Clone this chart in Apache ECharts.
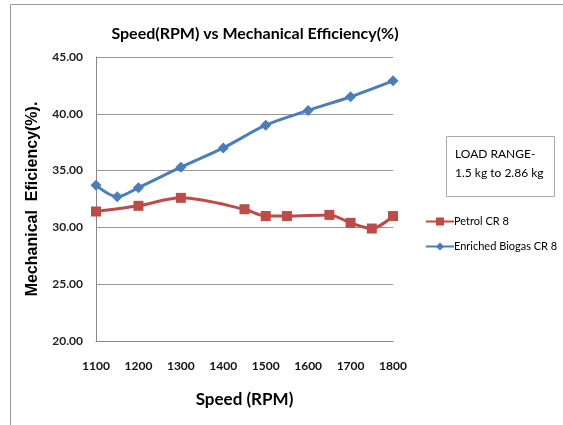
<!DOCTYPE html>
<html>
<head>
<meta charset="utf-8">
<script src="https://cdn.jsdelivr.net/npm/echarts@6/dist/echarts.min.js"></script>
<style>
  html, body { margin: 0; padding: 0; background: #fff; }
  #chart { width: 563px; height: 425px; }
</style>
</head>
<body>
<div id="chart"></div>
<script>
// speed (RPM) vs mechanical efficiency (%)
var biogasSpeed = [1100, 1150, 1200, 1300, 1400, 1500, 1600, 1700, 1800]
var biogasEff = [33.7, 32.7, 33.5, 35.3, 37.0, 39.0, 40.3, 41.5, 42.9]
var petrolSpeed = [1100, 1200, 1300, 1450, 1500, 1550, 1650, 1700, 1750, 1800]
var petrolEff = [31.4, 31.9, 32.6, 31.6, 31.0, 31.0, 31.1, 30.4, 29.9, 31.0]
var xTicks = [1100, 1200, 1300, 1400, 1500, 1600, 1700, 1800]
var yTicks = [20, 25, 30, 35, 40, 45]

function pairs(xs, ys) {
  return xs.map(function (x, i) { return [x, ys[i]] })
}

var chart = echarts.init(document.getElementById('chart'), null, { renderer: 'canvas' })

var font = 'Lato, "Open Sans", sans-serif'

var option = {
  animation: false,
  title: {
    text: 'Speed(RPM) vs Mechanical Efficiency(%)',
    left: 250,
    textAlign: 'center',
    top: 21,
    textStyle: { fontFamily: font, fontWeight: 'bold', fontSize: 16, color: '#000' }
  },
  grid: { left: 96, right: 170, top: 57, bottom: 84 },
  xAxis: {
    type: 'value',
    min: xTicks[0],
    max: xTicks[xTicks.length - 1],
    interval: 100,
    name: 'Speed (RPM)',
    nameLocation: 'middle',
    nameGap: 50,
    nameTextStyle: { fontFamily: font, fontWeight: 'bold', fontSize: 17, color: '#000' },
    axisLine: { show: true, lineStyle: { color: '#888' } },
    axisTick: { show: false },
    splitLine: { show: false },
    axisLabel: {
      fontFamily: font, fontWeight: 'bold', fontSize: 12, color: '#111', margin: 19,
      formatter: function (v) { return String(v) }
    }
  },
  yAxis: {
    type: 'value',
    min: yTicks[0],
    max: yTicks[yTicks.length - 1],
    interval: 5,
    name: 'Mechanical  Eficiency(%).',
    nameLocation: 'middle',
    nameGap: 55,
    nameTextStyle: { fontFamily: '"Liberation Sans", Arial, sans-serif', fontWeight: 'bold', fontSize: 16, color: '#000' },
    axisLine: { show: true, lineStyle: { color: '#888' } },
    axisTick: { show: false },
    splitLine: { show: true, lineStyle: { color: '#999' } },
    axisLabel: {
      fontFamily: font, fontWeight: 'bold', fontSize: 12, color: '#222', margin: 13,
      formatter: function (v) { return v.toFixed(2) }
    }
  },
  legend: {
    orient: 'vertical',
    left: 420,
    top: 211,
    itemGap: 14,
    itemWidth: 28,
    itemHeight: 10,
    textStyle: { fontFamily: font, fontSize: 11, color: '#000', padding: [0, 0, 0, -5] },
    data: ['Petrol CR 8', 'Enriched Biogas CR 8']
  },
  graphic: [
    {
      type: 'rect',
      shape: { x: 10.5, y: 4.5, width: 700, height: 600 },
      style: { fill: 'none', stroke: '#999', lineWidth: 1 },
      silent: true
    },
    {
      type: 'rect',
      shape: { x: 446.5, y: 136.5, width: 108, height: 60 },
      style: { fill: '#fff', stroke: '#aaa', lineWidth: 1 }
    },
    {
      type: 'text',
      left: 455,
      top: 145,
      style: {
        text: 'LOAD RANGE-\n1.5 kg to 2.86 kg',
        fontFamily: font,
        fontSize: 12,
        lineHeight: 19,
        fill: '#000'
      }
    }
  ],
  series: [
    {
      name: 'Petrol CR 8',
      type: 'line',
      smooth: 0.3,
      data: pairs(petrolSpeed, petrolEff),
      symbol: 'rect',
      symbolSize: 10,
      itemStyle: { color: '#be4b48' },
      lineStyle: { color: '#be4b48', width: 3 }
    },
    {
      name: 'Enriched Biogas CR 8',
      type: 'line',
      smooth: 0.3,
      data: pairs(biogasSpeed, biogasEff),
      symbol: 'diamond',
      symbolSize: 11,
      itemStyle: { color: '#4a7ebb' },
      lineStyle: { color: '#4a7ebb', width: 3 }
    }
  ]
}

chart.setOption(option)
</script>
</body>
</html>
